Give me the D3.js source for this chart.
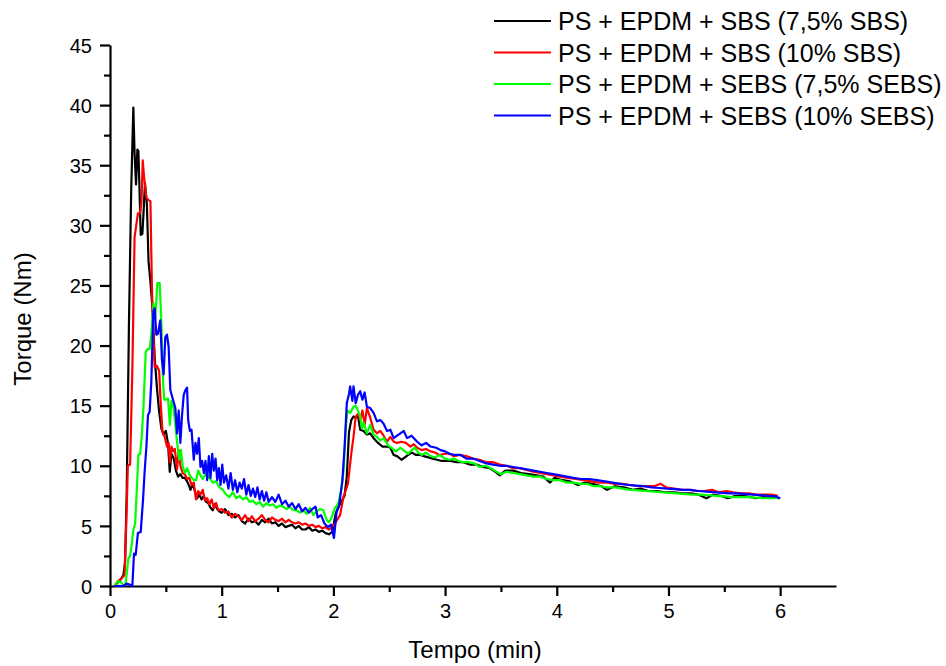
<!DOCTYPE html>
<html>
<head>
<meta charset="utf-8">
<script src="https://cdn.jsdelivr.net/npm/d3@7"></script>
<style>
  body { margin: 0; background: #fff; }
  svg { display: block; font-family: "Liberation Sans", Arial, sans-serif; }
</style>
</head>
<body>
<div id="chart"></div>
<script>
// tempo (min), torque (Nm) pairs
const ps75sbs = [[0.04,0],[0.07,0.3],[0.10,0.6],[0.12,0.9],[0.135,2.0],[0.15,8],[0.17,22],[0.19,33],[0.209,39.8],[0.22,36],[0.233,33.4],[0.245,36.3],[0.254,36.2],[0.263,33.4],[0.275,29.2],[0.29,29.3],[0.30,31],[0.313,33.5],[0.33,31.8],[0.345,27],[0.36,25.5],[0.38,23.2],[0.40,19],[0.42,16.5],[0.44,14.5],[0.46,13.1],[0.48,12.6],[0.50,12.9],[0.52,11.8],[0.535,9.5],[0.55,11.0],[0.57,10.6],[0.59,9.6],[0.61,9.1],[0.63,9.3],[0.65,9.0],[0.67,9.0],[0.69,8.7],[0.71,8.3],[0.72,8.0],[0.74,8.5],[0.76,7.9],[0.78,7.3],[0.80,7.6],[0.82,7.2],[0.84,7.5],[0.86,7.0],[0.88,6.9],[0.90,6.5],[0.92,6.3],[0.94,6.8],[0.96,6.4],[0.98,6.2],[1.0,6.1],[1.03,6.4],[1.06,5.9],[1.09,6.0],[1.12,5.7],[1.15,5.9],[1.18,5.4],[1.21,5.2],[1.24,5.6],[1.27,5.3],[1.30,5.4],[1.33,5.1],[1.36,5.5],[1.39,5.3],[1.42,5.6],[1.45,5.2],[1.48,5.3],[1.51,5.0],[1.54,5.2],[1.57,4.9],[1.60,5.0],[1.63,5.1],[1.66,4.8],[1.69,5.0],[1.72,4.7],[1.75,4.7],[1.78,4.9],[1.81,4.6],[1.84,4.7],[1.87,4.5],[1.90,4.6],[1.93,4.4],[1.96,4.3],[1.99,4.5],[2.02,6.0],[2.045,6.6],[2.07,7.0],[2.10,7.5],[2.12,9.1],[2.14,12.8],[2.16,13.8],[2.18,14.1],[2.20,14.0],[2.22,14.2],[2.24,13.0],[2.27,12.9],[2.30,12.6],[2.33,12.7],[2.36,12.3],[2.40,11.9],[2.44,11.6],[2.48,11.6],[2.51,11.5],[2.54,10.9],[2.57,10.8],[2.61,10.5],[2.64,10.7],[2.67,10.9],[2.70,11.1],[2.74,10.9],[2.78,10.9],[2.81,10.8],[2.85,10.7],[2.89,10.6],[2.93,10.5],[2.97,10.4],[3.01,10.4],[3.05,10.4],[3.10,10.3],[3.16,10.3],[3.22,10.1],[3.28,10.1],[3.34,9.9],[3.40,9.8],[3.45,9.5],[3.49,9.2],[3.54,9.6],[3.61,9.6],[3.68,9.4],[3.75,9.3],[3.82,9.2],[3.88,9.1],[3.94,8.6],[3.98,9.0],[4.05,8.8],[4.12,8.7],[4.19,8.4],[4.25,8.6],[4.32,8.5],[4.40,8.3],[4.45,8.0],[4.52,8.3],[4.60,8.2],[4.68,8.0],[4.75,8.1],[4.82,7.9],[4.90,7.9],[4.97,7.8],[5.05,7.8],[5.12,7.7],[5.20,7.7],[5.27,7.6],[5.34,7.3],[5.40,7.6],[5.47,7.5],[5.53,7.3],[5.60,7.5],[5.67,7.5],[5.73,7.4],[5.78,7.3],[5.85,7.4],[5.92,7.4],[6.0,7.3]];

const ps10sbs = [[0.04,0],[0.07,0.4],[0.10,0.6],[0.13,0.9],[0.145,5],[0.16,10],[0.18,10.1],[0.20,18],[0.22,29],[0.235,30],[0.25,31],[0.27,31],[0.282,32],[0.293,35.4],[0.305,34],[0.315,33.2],[0.325,32.3],[0.345,32.1],[0.362,32.0],[0.375,25],[0.385,21.5],[0.40,18.2],[0.42,18.3],[0.44,17.9],[0.455,15],[0.47,12.8],[0.49,12.4],[0.51,11.6],[0.525,11.9],[0.535,10.3],[0.55,11.6],[0.565,11.2],[0.58,11.4],[0.60,9.7],[0.615,11.3],[0.63,10],[0.65,9.4],[0.67,9.3],[0.69,8.9],[0.71,9.0],[0.73,8.4],[0.75,8.6],[0.77,7.2],[0.79,7.9],[0.81,7.6],[0.83,8.0],[0.85,7.1],[0.87,7.3],[0.89,6.8],[0.91,7.2],[0.93,6.5],[0.95,6.9],[0.97,6.3],[1.0,6.4],[1.03,6.1],[1.06,6.2],[1.09,5.7],[1.12,6.0],[1.15,5.8],[1.18,5.5],[1.21,5.9],[1.24,5.4],[1.27,5.8],[1.30,5.4],[1.33,5.6],[1.36,5.9],[1.39,5.5],[1.42,5.3],[1.45,5.7],[1.48,5.5],[1.51,5.4],[1.54,5.6],[1.57,5.3],[1.60,5.5],[1.63,5.3],[1.66,5.2],[1.69,5.3],[1.72,5.1],[1.75,5.2],[1.78,5.0],[1.81,5.1],[1.84,4.9],[1.87,5.0],[1.90,4.8],[1.93,4.9],[1.96,4.7],[1.99,4.9],[2.02,5.3],[2.06,5.9],[2.09,7.4],[2.13,8.5],[2.16,11.0],[2.18,12.4],[2.20,14.1],[2.22,14.3],[2.24,13.8],[2.26,14.6],[2.28,13.4],[2.30,14.8],[2.33,14.0],[2.36,13.0],[2.39,12.7],[2.42,12.9],[2.45,12.5],[2.48,12.0],[2.51,12.4],[2.54,12.0],[2.57,11.9],[2.61,12.0],[2.65,11.9],[2.69,11.6],[2.72,11.8],[2.75,11.5],[2.79,11.3],[2.83,11.4],[2.87,11.2],[2.91,11.1],[2.95,10.9],[3.0,11.0],[3.04,11.0],[3.08,10.8],[3.13,10.9],[3.19,10.8],[3.25,10.6],[3.31,10.5],[3.37,10.3],[3.43,10.3],[3.49,10.1],[3.55,10.0],[3.61,9.8],[3.67,9.8],[3.73,9.65],[3.79,9.5],[3.85,9.4],[3.91,9.3],[3.97,9.2],[4.03,9.1],[4.10,9.0],[4.17,8.9],[4.24,8.8],[4.31,8.7],[4.38,8.6],[4.45,8.6],[4.52,8.5],[4.59,8.5],[4.66,8.4],[4.73,8.3],[4.80,8.3],[4.87,8.3],[4.93,8.5],[4.98,8.2],[5.05,8.1],[5.12,8.0],[5.19,8.0],[5.25,7.9],[5.32,7.9],[5.39,8.0],[5.45,7.8],[5.52,7.9],[5.58,7.8],[5.65,7.7],[5.72,7.7],[5.78,7.6],[5.85,7.6],[5.92,7.6],[5.98,7.5]];

const ps75sebs = [[0.04,0],[0.07,0.4],[0.10,0.3],[0.12,0],[0.14,0.2],[0.155,1.5],[0.165,2.3],[0.18,2.5],[0.195,3.5],[0.21,4.7],[0.225,5.2],[0.24,8],[0.254,10.9],[0.27,11.0],[0.285,12.5],[0.30,15],[0.32,19.5],[0.335,19.7],[0.355,19.7],[0.37,21],[0.39,23.5],[0.405,22.2],[0.424,25.2],[0.445,25.2],[0.46,21.9],[0.475,17],[0.485,15.5],[0.50,15.5],[0.52,15.6],[0.535,13.4],[0.55,15.4],[0.565,15.1],[0.58,13.9],[0.60,12.0],[0.62,10.5],[0.635,11.3],[0.65,10.0],[0.67,9.4],[0.69,9.8],[0.71,9.3],[0.73,9.0],[0.75,8.8],[0.77,8.8],[0.79,9.6],[0.81,9.2],[0.83,8.9],[0.86,9.4],[0.89,9.0],[0.92,8.6],[0.95,8.7],[0.98,8.2],[1.01,8.0],[1.04,7.6],[1.07,7.4],[1.10,7.8],[1.13,7.3],[1.16,7.5],[1.19,7.2],[1.22,7.4],[1.25,7.0],[1.28,7.1],[1.31,6.8],[1.34,7.0],[1.37,6.6],[1.40,6.9],[1.43,6.7],[1.46,6.8],[1.49,6.5],[1.52,6.7],[1.55,6.6],[1.58,6.4],[1.61,6.6],[1.64,6.3],[1.67,6.3],[1.70,6.1],[1.73,6.3],[1.76,6.0],[1.79,6.5],[1.82,5.9],[1.85,6.2],[1.88,6.4],[1.91,6.3],[1.94,5.5],[1.96,5.3],[1.98,5.6],[2.01,6.4],[2.045,6.9],[2.07,8.0],[2.09,9.5],[2.11,13.0],[2.125,14.6],[2.15,14.4],[2.18,14.9],[2.20,15.0],[2.22,14.6],[2.24,14.1],[2.255,13.1],[2.27,13.6],[2.30,12.7],[2.33,13.4],[2.36,12.6],[2.39,12.4],[2.42,12.1],[2.45,12.3],[2.49,11.7],[2.52,11.5],[2.56,11.2],[2.60,11.5],[2.64,11.2],[2.67,11.0],[2.70,11.3],[2.73,11.5],[2.76,11.1],[2.79,10.9],[2.83,11.1],[2.87,10.8],[2.91,10.7],[2.95,10.9],[3.0,10.6],[3.04,10.5],[3.08,10.6],[3.12,10.4],[3.16,10.3],[3.21,10.3],[3.26,10.2],[3.31,9.9],[3.36,10.0],[3.41,9.8],[3.46,9.5],[3.50,9.3],[3.55,9.5],[3.61,9.4],[3.67,9.3],[3.73,9.2],[3.79,9.1],[3.85,9.1],[3.91,8.9],[3.97,8.8],[4.03,8.8],[4.09,8.6],[4.15,8.6],[4.21,8.5],[4.27,8.5],[4.33,8.3],[4.39,8.3],[4.45,8.2],[4.52,8.2],[4.59,8.1],[4.66,8.0],[4.73,7.95],[4.80,7.9],[4.87,7.85],[4.94,7.8],[5.01,7.75],[5.08,7.7],[5.15,7.65],[5.22,7.6],[5.29,7.6],[5.36,7.55],[5.43,7.5],[5.50,7.45],[5.57,7.4],[5.64,7.4],[5.71,7.4],[5.78,7.35],[5.85,7.3],[5.92,7.3],[5.98,7.3]];

const ps10sebs = [[0.04,0],[0.08,0],[0.12,0],[0.15,0.2],[0.18,0.1],[0.20,0],[0.215,2.7],[0.23,2.6],[0.25,4.4],[0.275,4.5],[0.296,7.2],[0.31,9.5],[0.326,11.6],[0.34,14.2],[0.355,14.5],[0.37,17],[0.388,22.9],[0.40,23.1],[0.415,20.9],[0.43,21.0],[0.45,22.1],[0.465,18.8],[0.48,17.6],[0.495,20.7],[0.51,20.9],[0.525,19.9],[0.54,16.3],[0.555,15.8],[0.57,15.3],[0.585,14.8],[0.60,12.7],[0.615,14.6],[0.63,11.9],[0.645,14.2],[0.66,15.9],[0.675,16.3],[0.69,16.5],[0.70,13.8],[0.715,12.9],[0.73,13.0],[0.75,10.5],[0.765,11.9],[0.78,11.0],[0.795,12.3],[0.81,9.9],[0.825,10.4],[0.84,9.4],[0.855,10.4],[0.87,8.8],[0.885,10.8],[0.90,9.0],[0.915,11.0],[0.93,9.6],[0.945,10.6],[0.96,8.8],[0.975,9.8],[0.99,8.4],[1.005,10.1],[1.02,8.6],[1.04,9.2],[1.06,8.1],[1.08,9.4],[1.10,8.0],[1.12,8.8],[1.14,7.8],[1.16,8.6],[1.18,8.1],[1.20,8.9],[1.22,7.6],[1.24,8.4],[1.26,7.5],[1.28,8.1],[1.30,7.4],[1.32,8.2],[1.34,7.2],[1.36,7.9],[1.38,7.1],[1.40,7.8],[1.42,7.0],[1.45,7.4],[1.48,7.0],[1.51,7.6],[1.54,6.8],[1.57,7.1],[1.60,6.6],[1.63,6.9],[1.66,6.4],[1.69,6.8],[1.72,6.2],[1.75,6.5],[1.78,6.1],[1.81,6.4],[1.84,6.6],[1.86,5.7],[1.89,5.9],[1.92,5.2],[1.95,4.9],[1.98,5.1],[2.005,4.0],[2.03,6.2],[2.05,6.6],[2.08,8.7],[2.10,11.5],[2.12,15.2],[2.14,16.0],[2.15,16.6],[2.17,15.4],[2.18,16.6],[2.20,15.2],[2.22,15.9],[2.24,16.2],[2.26,15.5],[2.28,16.1],[2.30,14.9],[2.33,14.8],[2.36,14.4],[2.39,13.7],[2.42,13.8],[2.45,13.5],[2.48,12.9],[2.51,13.0],[2.54,12.3],[2.57,12.5],[2.60,12.7],[2.63,12.9],[2.66,12.3],[2.70,12.5],[2.75,12.0],[2.79,11.7],[2.83,11.9],[2.87,11.6],[2.92,11.5],[2.96,11.3],[3.0,11.2],[3.04,11.0],[3.09,10.9],[3.14,10.9],[3.19,10.6],[3.25,10.6],[3.31,10.4],[3.37,10.2],[3.43,10.1],[3.49,10.0],[3.55,10.0],[3.61,9.9],[3.67,9.8],[3.73,9.7],[3.79,9.6],[3.85,9.5],[3.91,9.4],[3.97,9.3],[4.03,9.2],[4.09,9.1],[4.15,9.0],[4.22,8.9],[4.29,8.9],[4.36,8.8],[4.43,8.7],[4.50,8.6],[4.57,8.5],[4.64,8.4],[4.71,8.35],[4.78,8.3],[4.85,8.2],[4.92,8.15],[4.99,8.1],[5.06,8.05],[5.13,8.0],[5.20,8.0],[5.27,7.9],[5.34,7.85],[5.41,7.8],[5.48,7.75],[5.55,7.7],[5.62,7.7],[5.69,7.65],[5.76,7.6],[5.83,7.55],[5.90,7.5],[5.96,7.45],[6.0,7.3]];

const seriesNames = [
  "PS + EPDM + SBS (7,5% SBS)",
  "PS + EPDM + SBS (10% SBS)",
  "PS + EPDM + SEBS (7,5% SEBS)",
  "PS + EPDM + SEBS (10% SEBS)"
];
const seriesColors = ["#000000", "#ff0000", "#00ff00", "#0000ff"];
const seriesData = [ps75sbs, ps10sbs, ps75sebs, ps10sebs];

const xMajorTicks = [0, 1, 2, 3, 4, 5, 6];
const xMinorTicks = [0.5, 1.5, 2.5, 3.5, 4.5, 5.5];
const yMajorTicks = [0, 5, 10, 15, 20, 25, 30, 35, 40, 45];
const yMinorTicks = [2.5, 7.5, 12.5, 17.5, 22.5, 27.5, 32.5, 37.5, 42.5];

const width = 946, height = 666;
const svg = d3.select("#chart").append("svg")
  .attr("width", width).attr("height", height);
svg.append("rect").attr("width", width).attr("height", height).attr("fill", "#fff");

// plot area
const x = d3.scaleLinear().domain([0, 6.5]).range([110, 836]);
const y = d3.scaleLinear().domain([0, 45]).range([586, 45]);

// minor ticks first, then major axes
svg.append("g").attr("transform", `translate(0,${y(0)})`)
  .call(d3.axisBottom(x).tickValues(xMinorTicks).tickSize(6).tickSizeOuter(0).tickFormat(""))
  .call(g => g.select(".domain").remove());
svg.append("g").attr("transform", `translate(${x(0)},0)`)
  .call(d3.axisLeft(y).tickValues(yMinorTicks).tickSize(6).tickSizeOuter(0).tickFormat(""))
  .call(g => g.select(".domain").remove());

const xAxis = svg.append("g").attr("transform", `translate(0,${y(0)})`)
  .call(d3.axisBottom(x).tickValues(xMajorTicks).tickSize(10).tickSizeOuter(0).tickFormat(d3.format("d")));
xAxis.selectAll("text").attr("y", 32).attr("dy", null)
  .style("font-size", "20px").attr("fill", "#000");

const yAxis = svg.append("g").attr("transform", `translate(${x(0)},0)`)
  .call(d3.axisLeft(y).tickValues(yMajorTicks).tickSize(10).tickSizeOuter(0).tickPadding(8));
yAxis.selectAll("text").attr("dy", "0.36em")
  .style("font-size", "20px").attr("fill", "#000");

svg.selectAll(".tick line").attr("stroke", "#000").attr("stroke-width", 2.2);
svg.selectAll(".domain").attr("stroke", "#000").attr("stroke-width", 2.2);
svg.selectAll("g").attr("font-family", null);

// curves
const line = d3.line().x(d => x(d[0])).y(d => y(d[1]));
seriesData.forEach((data, i) => {
  svg.append("path")
    .datum(data)
    .attr("fill", "none")
    .attr("stroke", seriesColors[i])
    .attr("stroke-width", 2.2)
    .attr("stroke-linejoin", "round")
    .attr("d", line);
});

// titles
svg.append("text")
  .attr("x", 475).attr("y", 658)
  .attr("text-anchor", "middle")
  .style("font-size", "24px")
  .text("Tempo (min)");
svg.append("text")
  .attr("transform", "translate(31,319) rotate(-90)")
  .attr("text-anchor", "middle")
  .style("font-size", "24px")
  .text("Torque (Nm)");

// legend
const legend = svg.append("g").attr("transform", "translate(494,21)");
seriesNames.forEach((name, i) => {
  const row = legend.append("g").attr("transform", `translate(0,${i * 31.5})`);
  row.append("line")
    .attr("x1", 0).attr("x2", 57)
    .attr("stroke", seriesColors[i]).attr("stroke-width", 2.2);
  row.append("text")
    .attr("x", 64).attr("y", 9)
    .style("font-size", "25px")
    .text(name);
});
</script>
</body>
</html>
